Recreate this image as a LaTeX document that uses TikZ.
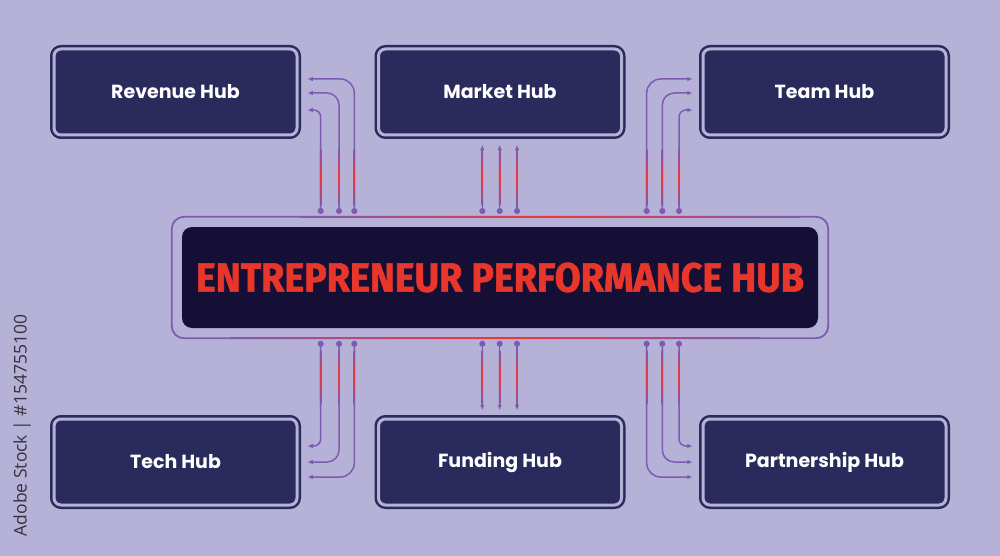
\documentclass[tikz,border=0pt]{standalone}
\usepackage{fontspec}
\usepackage{graphicx}
\usetikzlibrary{arrows.meta,calc}
\newfontfamily\hubfont{Poppins}
\newfontfamily\headfont{Fira Sans}[BoldFeatures={FakeBold=1.6}]
\newfontfamily\markfont{Open Sans}
\definecolor{bgcol}{HTML}{B6B1D6}
\definecolor{boxcol}{HTML}{2A2A5C}
\definecolor{hubfill}{HTML}{150F36}
\definecolor{hubred}{HTML}{E8362B}
\definecolor{linep}{HTML}{7D5BB3}
\definecolor{liner}{HTML}{F0353A}
\definecolor{markcol}{HTML}{34333F}
\begin{document}
\begin{tikzpicture}[x=1pt,y=-1pt,>=latex,line join=round,
  hubbox/.style={draw=boxcol,fill=boxcol,line width=2.5pt,double=bgcol,double distance=3pt,
    rounded corners=7pt,minimum width=243pt,minimum height=86pt,inner sep=0pt,
    text=white,font=\hubfont\bfseries\fontsize{19}{20}\selectfont},
  hubcore/.style={fill=hubfill,rounded corners=10pt,minimum width=636pt,minimum height=101pt,
    inner sep=0pt,text=hubred},
  hubline/.style={draw=linep,line width=1.8pt,rounded corners=12pt},
  link/.style={draw=linep,line width=1.5pt,rounded corners=9pt,
    {Circle[length=6pt]}-{Latex[length=5.5pt,width=4.5pt]}},
  glow/.style={top color=linep,bottom color=linep,middle color=liner},
]
  \useasboundingbox[fill=bgcol] (0,0) rectangle (1000,556);
%%
  % Node: hub
  \node[hubcore] (hub) at (500,277.5)
    {\resizebox{608pt}{29pt}{\headfont\bfseries ENTREPRENEUR PERFORMANCE HUB}};
  \draw[hubline] ($(hub.north west)+(-10,-10)$) rectangle ($(hub.south east)+(10,10)$);
  \shade[left color=linep,right color=linep,middle color=liner] (300,216.1) rectangle (800,217.9);
  \shade[left color=linep,right color=linep,middle color=liner] (230,337.1) rectangle (760,338.9);
  % Node: rev, mkt, team
  \node[hubbox] (rev) at (175.5,92) {Revenue Hub};
  \node[hubbox] (mkt) at (500,92) {Market Hub};
  \node[hubbox] (team) at (824.5,92) {Team Hub};
  % Node: tech, fund, part
  \node[hubbox] (tech) at (175.5,462) {Tech Hub};
  \node[hubbox] (fund) at (500,462) {Funding Hub};
  \node[hubbox] (part) at (824.5,462) {Partnership Hub};
  % Node: stock
  \node[rotate=90,text=markcol,font=\markfont\fontsize{17.5}{19}\selectfont] (stock) at (22,425.5)
    {Adobe Stock | \#154755100};
%%
  % dots on the hub outline
  \coordinate (rA) at (320.7,214);  \coordinate (rB) at (339,214);  \coordinate (rC) at (354.3,214);
  \coordinate (mA) at (482.3,214);  \coordinate (mB) at (499.7,214);  \coordinate (mC) at (517,214);
  \coordinate (tA) at (646.7,214);  \coordinate (tB) at (662.3,214);  \coordinate (tC) at (679,214);
  \coordinate (sA) at (320.7,340.8);  \coordinate (sB) at (339,340.8);  \coordinate (sC) at (354.3,340.8);
  \coordinate (fA) at (482.3,340.8);  \coordinate (fB) at (499.7,340.8);  \coordinate (fC) at (517,340.8);
  \coordinate (pA) at (646.7,340.8);  \coordinate (pB) at (662.3,340.8);  \coordinate (pC) at (679,340.8);
  % Edge: hub -> rev
  \draw[link,rounded corners=14pt] (rC) |- ($(rev.east)+(9,-13)$);
  \draw[link,rounded corners=12pt] (rB) |- ($(rev.east)+(9,1)$);
  \draw[link,rounded corners=7pt] (rA) |- ($(rev.east)+(9,18)$);
  % Edge: hub -> mkt
  \draw[link] (mA) -- ($(mA |- mkt.south)+(0,8.5)$);
  \draw[link] (mB) -- ($(mB |- mkt.south)+(0,8.5)$);
  \draw[link] (mC) -- ($(mC |- mkt.south)+(0,8.5)$);
  % Edge: hub -> team
  \draw[link,rounded corners=14pt] (tA) |- ($(team.west)+(-9,-13)$);
  \draw[link,rounded corners=12pt] (tB) |- ($(team.west)+(-9,1)$);
  \draw[link,rounded corners=7pt] (tC) |- ($(team.west)+(-9,18)$);
  % Edge: hub -> tech
  \draw[link,rounded corners=7pt] (sA) |- ($(tech.east)+(9,-16)$);
  \draw[link,rounded corners=12pt] (sB) |- ($(tech.east)+(9,0)$);
  \draw[link,rounded corners=14pt] (sC) |- ($(tech.east)+(9,15)$);
  % Edge: hub -> fund
  \draw[link] (fA) -- ($(fA |- fund.north)+(0,-7.5)$);
  \draw[link] (fB) -- ($(fB |- fund.north)+(0,-7.5)$);
  \draw[link] (fC) -- ($(fC |- fund.north)+(0,-7.5)$);
  % Edge: hub -> part
  \draw[link,rounded corners=7pt] (pC) |- ($(part.west)+(-9,-16)$);
  \draw[link,rounded corners=12pt] (pB) |- ($(part.west)+(-9,0)$);
  \draw[link,rounded corners=14pt] (pA) |- ($(part.west)+(-9,15)$);
  % red glow on the straight runs
  \foreach \x in {320.7,339,354.3,482.3,499.7,517,646.7,662.3,679} {
    \shade[glow] (\x-0.75,150) rectangle (\x+0.75,205);
    \shade[glow] (\x-0.75,350) rectangle (\x+0.75,404);
  }
%
\end{tikzpicture}
\end{document}
